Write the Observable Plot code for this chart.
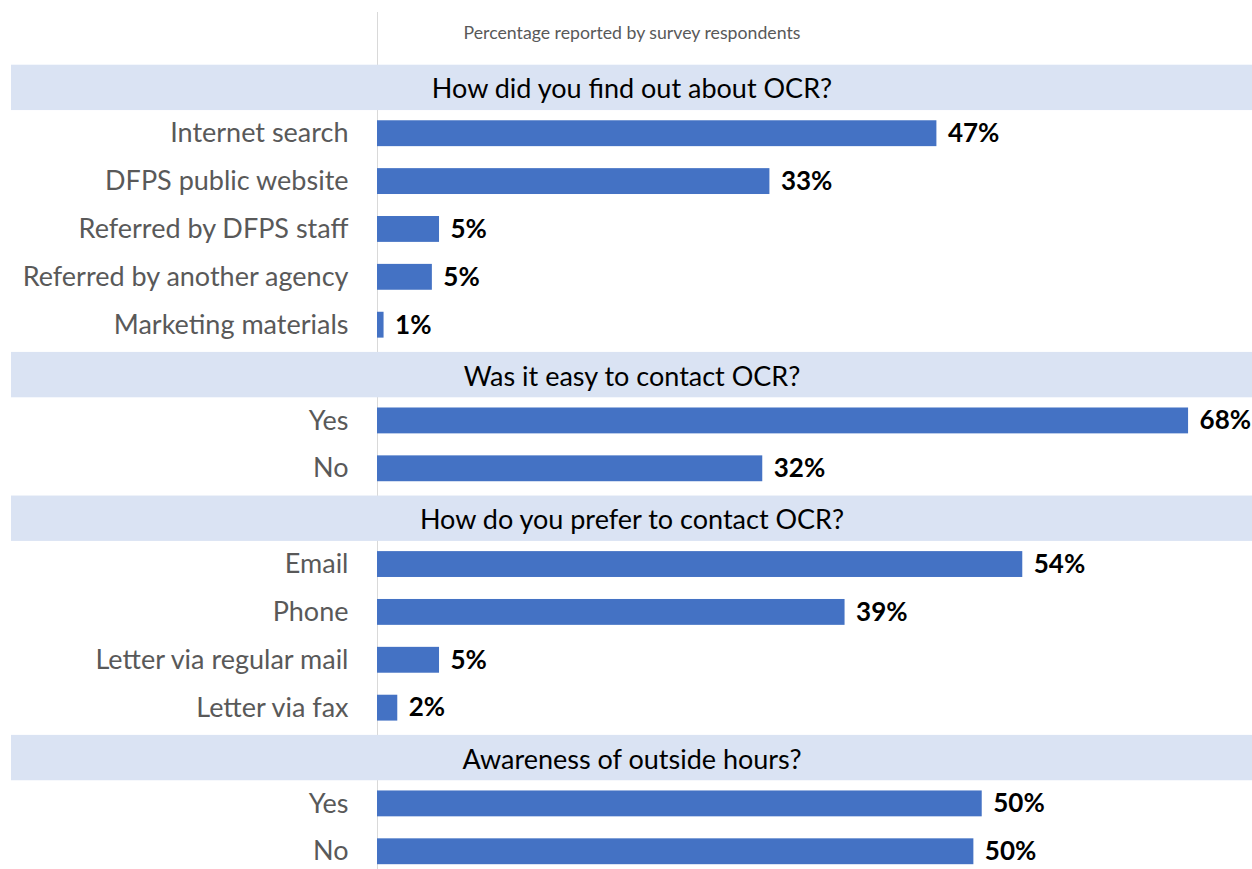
<!DOCTYPE html>
<html>
<head>
<meta charset="utf-8">
<script src="https://cdn.jsdelivr.net/npm/d3@7"></script>
<script src="https://cdn.jsdelivr.net/npm/@observablehq/plot@0.6"></script>
<style>
  html, body { margin: 0; padding: 0; background: #fff; }
  #chart svg { display: block; }
</style>
</head>
<body>
<div id="chart"></div>
<script>
const subtitle = "Percentage reported by survey respondents";
const headers = [
  "How did you find out about OCR?",
  "Was it easy to contact OCR?",
  "How do you prefer to contact OCR?",
  "Awareness of outside hours?"
];
const categories = [
  "Internet search", "DFPS public website", "Referred by DFPS staff",
  "Referred by another agency", "Marketing materials",
  "Yes", "No",
  "Email", "Phone", "Letter via regular mail", "Letter via fax",
  "Yes", "No"
];
const groupOf = [0, 0, 0, 0, 0, 1, 1, 2, 2, 2, 2, 3, 3];
const values = [46.9, 32.9, 5.2, 4.6, 0.55, 68, 32.3, 54.1, 39.2, 5.2, 1.7, 50.7, 50.0];
const valueLabels = ["47%", "33%", "5%", "5%", "1%", "68%", "32%", "54%", "39%", "5%", "2%", "50%", "50%"];

// Build row table (headers interleaved with categories)
const rows = [];
let last = -1;
categories.forEach((c, i) => {
  if (groupOf[i] !== last) {
    last = groupOf[i];
    rows.push({id: "h" + last, type: "header", text: headers[last]});
  }
  rows.push({id: "c" + i, type: "bar", text: c, value: values[i], label: valueLabels[i]});
});
const headerRows = rows.filter(d => d.type === "header");
const barRows = rows.filter(d => d.type === "bar");

const W = 1252, H = 869;
const font = "Lato, 'Open Sans', sans-serif";

const chart = Plot.plot({
  width: W,
  height: H,
  marginLeft: 377,
  marginRight: 0,
  marginTop: 12,
  marginBottom: 0,
  style: {fontFamily: font, background: "#fff", overflow: "visible"},
  x: {domain: [0, 73.36], axis: null},
  y: {domain: rows.map(d => d.id), range: [61.4, 875.2], padding: 0, round: false, axis: null},
  marks: [
    Plot.ruleX([0], {stroke: "#d9d9d9", strokeWidth: 1}),
    Plot.cell(headerRows, {y: "id", fill: "#dae3f3", insetTop: 3.3, insetBottom: -0.8, insetLeft: -366}),
    Plot.text(headerRows, {
      y: "id", text: "text", frameAnchor: "middle", dx: -183, dy: 4,
      fontSize: 27, fill: "#000", textAnchor: "middle"
    }),
    Plot.barX(barRows, {y: "id", x: "value", fill: "#4472c4", insetTop: 11, insetBottom: 11}),
    Plot.text(barRows, {
      y: "id", text: "text", frameAnchor: "left", dx: -29, textAnchor: "end",
      fontSize: 27, fill: "#595959"
    }),
    Plot.text(barRows, {
      y: "id", x: "value", text: "label", dx: 11, textAnchor: "start",
      fontSize: 26, fontWeight: "bold", fill: "#000"
    }),
    Plot.text([subtitle], {
      frameAnchor: "top", dx: -183, dy: 21, text: d => d, lineAnchor: "middle",
      fontSize: 17.7, fill: "#595959", textAnchor: "middle"
    })
  ]
});
document.getElementById("chart").appendChild(chart);
</script>
</body>
</html>
